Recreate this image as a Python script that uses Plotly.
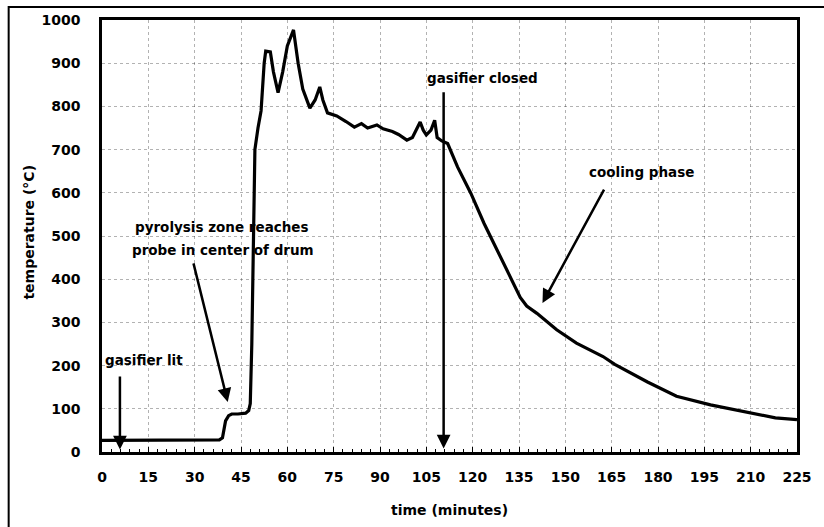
import plotly.graph_objects as go

# ---- data ----
time_min = [0, 5, 10, 20, 30, 38, 39, 39.5, 40, 41, 42, 44, 46.5, 47.5, 48, 48.5, 49, 49.5,
            50.5, 51.5, 52.5, 53, 54.5, 55.5, 57, 58.5, 60, 62, 63.5, 65, 67.3, 69, 70.5,
            71.5, 73, 76, 79, 81.7, 84, 86, 89, 91, 94, 96, 98.7, 100.5, 103, 104, 105,
            106.5, 107.7, 108.5, 110, 111.9, 115.1, 119.4, 123.7, 127.9, 132.2, 135.4, 137.5,
            140.8, 147.2, 153.6, 162.2, 166, 176.6, 186, 197, 208, 218, 225]
temperature = [27, 27, 27, 27, 27, 28, 33, 50, 72, 84, 88, 88, 90, 96, 112, 250, 500, 700,
               750, 790, 900, 928, 926, 880, 832, 880, 940, 977, 900, 840, 796, 815, 845,
               815, 785, 778, 765, 752, 760, 750, 757, 748, 742, 735, 722, 728, 764, 745, 734,
               745, 768, 728, 720, 714, 660, 599, 529, 468, 406, 358, 338,
               321, 283, 252, 221, 203, 162, 129, 109, 93, 79, 75]

x_ticks = [0, 15, 30, 45, 60, 75, 90, 105, 120, 135, 150, 165, 180, 195, 210, 225]
y_ticks = [0, 100, 200, 300, 400, 500, 600, 700, 800, 900, 1000]

x_title = "time (minutes)"
y_title = "temperature (°C)"

# annotation texts
lbl_lit = "gasifier lit"
lbl_pyro1 = "pyrolysis zone reaches"
lbl_pyro2 = "probe in center of drum"
lbl_closed = "gasifier closed"
lbl_cool = "cooling phase"

FONT = "DejaVu Sans"
TXT = dict(family=FONT, size=13.5, color="black", weight="bold")

fig = go.Figure()
fig.add_trace(go.Scatter(x=time_min, y=temperature, mode="lines",
                         line=dict(color="black", width=3.2), showlegend=False,
                         hoverinfo="skip"))

ann = []
# texts
ann.append(dict(x=0.3, y=213, text=lbl_lit, showarrow=False, xanchor="left", yanchor="middle", font=TXT))
ann.append(dict(x=67.8, y=521, text=lbl_pyro1, showarrow=False, xanchor="right", yanchor="middle", font=TXT))
ann.append(dict(x=69.4, y=468, text=lbl_pyro2, showarrow=False, xanchor="right", yanchor="middle", font=TXT))
ann.append(dict(x=104.5, y=866, text=lbl_closed, showarrow=False, xanchor="left", yanchor="middle", font=TXT))
ann.append(dict(x=156.9, y=648, text=lbl_cool, showarrow=False, xanchor="left", yanchor="middle", font=TXT))

# arrows (head at x,y ; tail at ax,ay)
arrow = dict(text="", showarrow=True, axref="x", ayref="y", arrowhead=2, arrowsize=1.1,
             arrowwidth=2.5, arrowcolor="black", standoff=0)
ann.append(dict(arrow, x=5.8, y=6, ax=5.8, ay=178))
ann.append(dict(arrow, x=40.7, y=116, ax=29.5, ay=440))
ann.append(dict(arrow, x=110.6, y=8, ax=110.6, ay=836))
ann.append(dict(arrow, x=142.6, y=345, ax=162.8, ay=611))

# axis titles
ann.append(dict(xref="paper", yref="paper", x=0.5, y=-0.134, text=x_title, showarrow=False,
                xanchor="center", yanchor="middle", font=dict(family=FONT, size=14, color="black", weight="bold")))
ann.append(dict(xref="paper", yref="paper", x=-0.1043, y=0.509, text=y_title, showarrow=False,
                textangle=-90, xanchor="center", yanchor="middle",
                font=dict(family=FONT, size=14, color="black", weight="bold")))

fig.update_layout(
    width=824, height=527,
    margin=dict(l=102, r=22, t=20, b=75),
    paper_bgcolor="white", plot_bgcolor="white",
    annotations=ann,
    shapes=[dict(type="rect", xref="paper", yref="paper", x0=-0.1343, x1=1.2, y0=-0.4, y1=1.0301,
                 line=dict(color="black", width=2), layer="below")],
)

GRID = "rgba(0,0,0,0.3)"
fig.update_xaxes(range=[0, 225], tickvals=x_ticks, ticktext=[str(v) for v in x_ticks],
                 showline=True, mirror=True, linecolor="black", linewidth=2.5,
                 showgrid=True, gridcolor=GRID, griddash="dot", gridwidth=1,
                 zeroline=False, ticks="inside", ticklen=5, tickcolor="black", ticklabelstandoff=10,
                 minor=dict(dtick=3, ticks="inside", ticklen=3, tickcolor="black", showgrid=False),
                 tickfont=dict(family=FONT, size=14, color="black", weight="bold"))
fig.update_yaxes(range=[0, 1000], tickvals=y_ticks, ticktext=[str(v) for v in y_ticks],
                 showline=True, mirror=True, linecolor="black", linewidth=2.5,
                 showgrid=True, gridcolor=GRID, griddash="dot", gridwidth=1,
                 zeroline=False, ticks="", ticklabelstandoff=16,
                 tickfont=dict(family=FONT, size=14, color="black", weight="bold"))

fig.write_html("out.html")
